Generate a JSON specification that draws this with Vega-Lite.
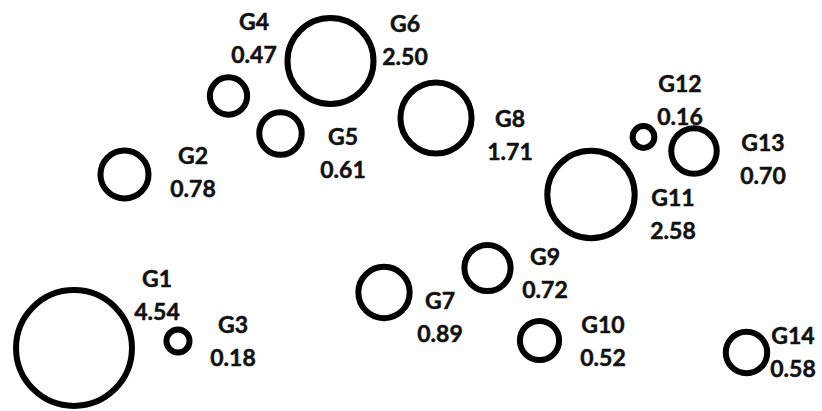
{
  "$schema": "https://vega.github.io/schema/vega-lite/v6.json",
  "width": 822,
  "height": 411,
  "padding": 0,
  "autosize": {"type": "none"},
  "background": "white",
  "config": {"view": {"stroke": null}},
  "data": {
    "values": [
      {"name": "G1", "value": 4.54, "x": 74, "y": 63, "lx": 157, "ly": 114.5},
      {"name": "G2", "value": 0.78, "x": 124.5, "y": 236.5, "lx": 193, "ly": 237.5},
      {"name": "G3", "value": 0.18, "x": 178, "y": 70, "lx": 233, "ly": 68.5},
      {"name": "G4", "value": 0.47, "x": 228.5, "y": 315, "lx": 254, "ly": 372},
      {"name": "G5", "value": 0.61, "x": 280.5, "y": 277.5, "lx": 343, "ly": 257},
      {"name": "G6", "value": 2.50, "x": 330.5, "y": 350, "lx": 405, "ly": 369.5},
      {"name": "G7", "value": 0.89, "x": 384, "y": 118.5, "lx": 440, "ly": 92.5},
      {"name": "G8", "value": 1.71, "x": 436, "y": 293, "lx": 510, "ly": 275},
      {"name": "G9", "value": 0.72, "x": 487.5, "y": 143, "lx": 545, "ly": 137},
      {"name": "G10", "value": 0.52, "x": 539.5, "y": 70.5, "lx": 603, "ly": 68.5},
      {"name": "G11", "value": 2.58, "x": 591, "y": 216.5, "lx": 673, "ly": 196},
      {"name": "G12", "value": 0.16, "x": 643.5, "y": 274, "lx": 680, "ly": 310},
      {"name": "G13", "value": 0.70, "x": 694, "y": 260, "lx": 763, "ly": 251},
      {"name": "G14", "value": 0.58, "x": 746.5, "y": 58.5, "lx": 793, "ly": 57.5}
    ]
  },
  "layer": [
    {
      "mark": {"type": "point", "shape": "circle", "filled": false, "stroke": "black", "strokeWidth": 6, "opacity": 1},
      "encoding": {
        "x": {"field": "x", "type": "quantitative", "scale": {"domain": [0, 822], "nice": false, "zero": false}, "axis": null},
        "y": {"field": "y", "type": "quantitative", "scale": {"domain": [0, 411], "nice": false, "zero": false}, "axis": null},
        "size": {"field": "value", "type": "quantitative", "scale": {"type": "linear", "domain": [0, 5], "range": [0, 14800]}, "legend": null}
      }
    },
    {
      "mark": {"type": "text", "font": "Lato", "fontWeight": "bold", "fontSize": 23, "color": "#111111", "stroke": "#111111", "strokeWidth": 0.5, "dy": -16.5, "align": "center", "baseline": "middle"},
      "encoding": {
        "x": {"field": "lx", "type": "quantitative"},
        "y": {"field": "ly", "type": "quantitative"},
        "text": {"field": "name", "type": "nominal"}
      }
    },
    {
      "mark": {"type": "text", "font": "Lato", "fontWeight": "bold", "fontSize": 23, "color": "#111111", "stroke": "#111111", "strokeWidth": 0.5, "dy": 16.5, "align": "center", "baseline": "middle"},
      "encoding": {
        "x": {"field": "lx", "type": "quantitative"},
        "y": {"field": "ly", "type": "quantitative"},
        "text": {"field": "value", "type": "quantitative", "format": ".2f"}
      }
    }
  ]
}
